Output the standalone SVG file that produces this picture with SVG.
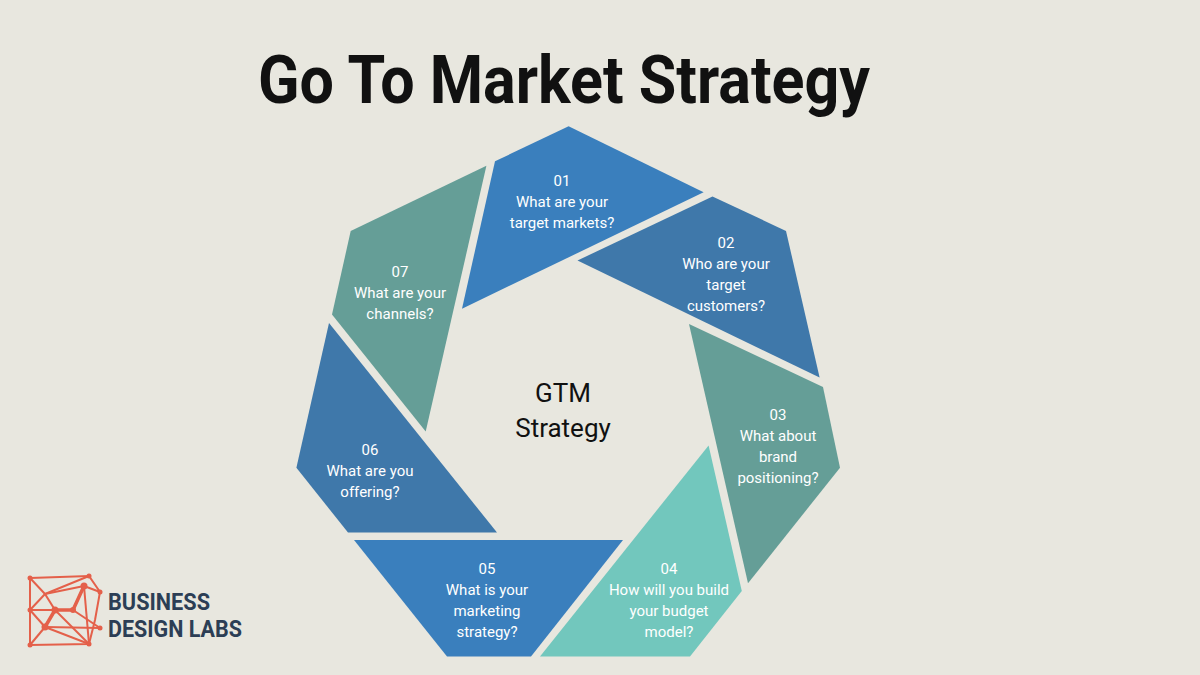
<svg xmlns="http://www.w3.org/2000/svg" width="1200" height="675" viewBox="0 0 1200 675">
<style>
.l{font-family:Roboto,"Liberation Sans",sans-serif;font-size:15px;fill:#fff;text-anchor:middle}
.c{font-family:Roboto,"Liberation Sans",sans-serif;font-size:26px;fill:#111;text-anchor:middle}
.lg{font-family:Roboto,"Liberation Sans",sans-serif;font-size:24px;font-weight:bold;fill:#2c3e55}
.r{stroke:#e4604a;stroke-width:2;fill:none}
</style>
<rect width="1200" height="675" fill="#e8e7df"/>
<text x="564" y="103" font-family="Roboto,'Liberation Sans',sans-serif" font-size="66" font-weight="bold" fill="#111" text-anchor="middle" textLength="612" lengthAdjust="spacingAndGlyphs">Go To Market Strategy</text>
<g id="n01"><polygon points="568.6,126.2 703.6,192.3 462,308.7 495,161.3" fill="#3a7fbd"/>
<text class="l" x="562" y="186">01</text><text class="l" x="562" y="207">What are your</text><text class="l" x="562" y="228">target markets?</text></g>
<g id="n02"><polygon points="712.5,196.4 786,230.9 819.6,377.6 577.5,260.5" fill="#3f78aa"/>
<text class="l" x="726" y="248">02</text><text class="l" x="726" y="269">Who are your</text><text class="l" x="726" y="290">target</text><text class="l" x="726" y="311">customers?</text></g>
<g id="n03"><polygon points="689,323.9 823,386.9 840,467.8 748,583.2" fill="#659e97"/>
<text class="l" x="778" y="420">03</text><text class="l" x="778" y="441">What about</text><text class="l" x="778" y="462">brand</text><text class="l" x="778" y="483">positioning?</text></g>
<g id="n04"><polygon points="708.6,445.4 741.8,591 690,656.5 540,656.5" fill="#72c7bd"/>
<text class="l" x="669" y="574">04</text><text class="l" x="669" y="595">How will you build</text><text class="l" x="669" y="616">your budget</text><text class="l" x="669" y="637">model?</text></g>
<g id="n05"><polygon points="354,540 623,540 531,656.5 447,656.5" fill="#3a7fbd"/>
<text class="l" x="487" y="574">05</text><text class="l" x="487" y="595">What is your</text><text class="l" x="487" y="616">marketing</text><text class="l" x="487" y="637">strategy?</text></g>
<g id="n06"><polygon points="329,323 497,532.5 348,532.5 296.4,467.8" fill="#3f78aa"/>
<text class="l" x="370" y="455">06</text><text class="l" x="370" y="476">What are you</text><text class="l" x="370" y="497">offering?</text></g>
<g id="n07"><polygon points="486.4,165.8 425.7,431.6 332,314.6 350.7,231" fill="#659e97"/>
<text class="l" x="400" y="277">07</text><text class="l" x="400" y="298">What are your</text><text class="l" x="400" y="319">channels?</text></g>
<g id="center"><text class="c" x="563" y="402">GTM</text><text class="c" x="563" y="437">Strategy</text></g>
<g id="connectors"/>
<g id="logo">
<g class="r">
<polyline points="30,578 89,576 100,592 95,620 89,644 30,645 30,578"/>
<polyline points="30,578 45,594 89,576 M45,594"/>
<line x1="45" y1="594" x2="84" y2="586"/>
<line x1="45" y1="594" x2="30" y2="610"/>
<line x1="30" y1="610" x2="45" y2="627"/>
<line x1="45" y1="594" x2="55" y2="610"/>
<line x1="30" y1="610" x2="55" y2="610"/>
<line x1="45" y1="627" x2="89" y2="644"/>
<line x1="45" y1="627" x2="30" y2="645"/>
<line x1="45" y1="627" x2="100" y2="628"/>
<line x1="73" y1="610" x2="100" y2="628"/>
<line x1="84" y1="586" x2="100" y2="592"/>
<line x1="84" y1="586" x2="89" y2="644"/>
<line x1="55" y1="610" x2="89" y2="644"/>
</g>
<polyline points="45,627 55,610 73,610 84,586" stroke="#e4604a" stroke-width="3.5" fill="none"/>
<g fill="#e4604a"><circle cx="45" cy="627" r="3.5"/><circle cx="55" cy="610" r="3.5"/><circle cx="73" cy="610" r="3"/><circle cx="84" cy="586" r="3.5"/>
<circle cx="30" cy="578" r="2.5"/><circle cx="89" cy="576" r="2.5"/><circle cx="30" cy="645" r="2.5"/><circle cx="89" cy="644" r="2.5"/><circle cx="30" cy="610" r="2.5"/><circle cx="100" cy="628" r="2.5"/><circle cx="100" cy="592" r="2.5"/></g>
<text class="lg" x="108" y="610" textLength="102" lengthAdjust="spacingAndGlyphs">BUSINESS</text>
<text class="lg" x="108" y="637" textLength="134" lengthAdjust="spacingAndGlyphs">DESIGN LABS</text>
</g>
</svg>
